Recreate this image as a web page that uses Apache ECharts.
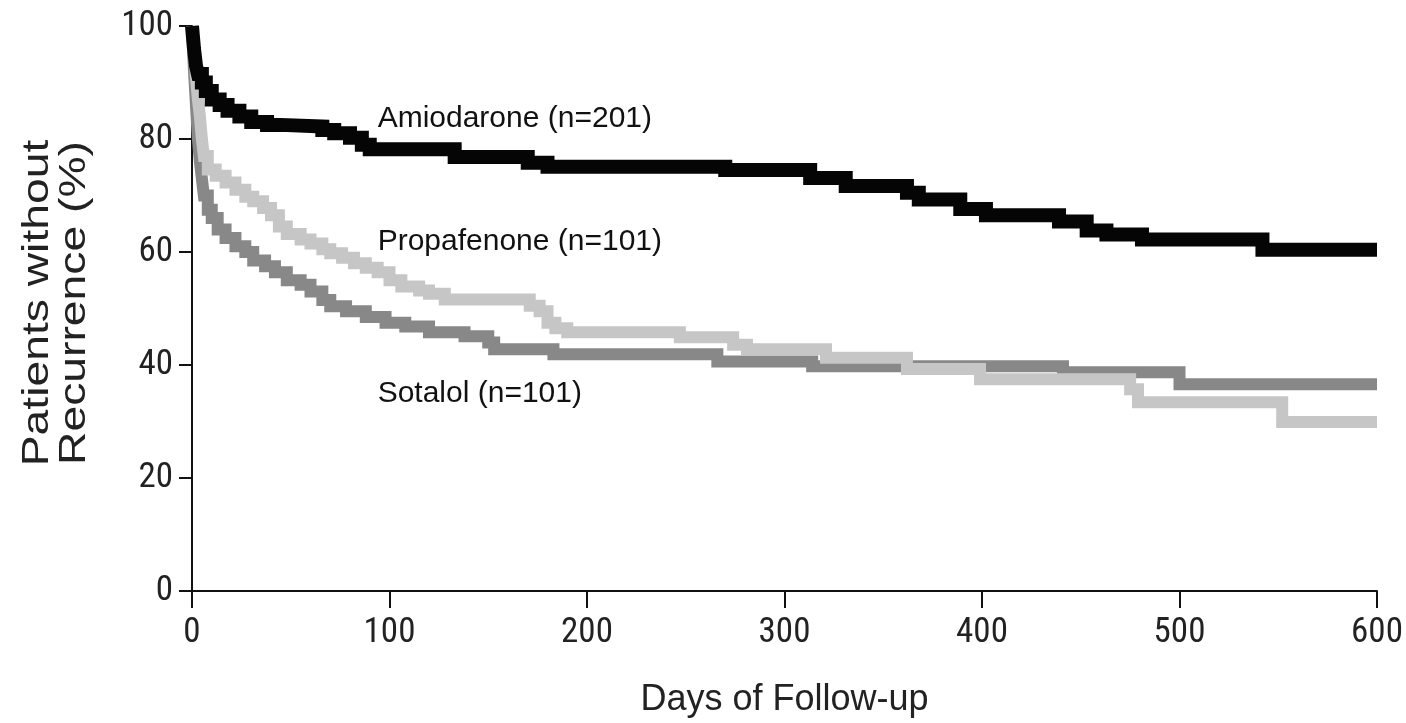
<!DOCTYPE html>
<html>
<head>
<meta charset="utf-8">
<title>Patients without Recurrence</title>
<script src="https://cdn.jsdelivr.net/npm/echarts@6/dist/echarts.min.js"></script>
<style>
  html, body { margin: 0; padding: 0; background: #fff; }
  #chart { width: 1406px; height: 723px; }
</style>
</head>
<body>
<div id="chart"></div>
<script>
// Kaplan-Meier style survival curves: day of event and % still free of recurrence after it
const amioDays = [0, 1, 2, 3, 5, 7, 10, 14, 18, 24, 30, 38, 45, 66, 72, 80, 86, 90, 133, 170, 180, 270, 313, 331, 362, 368, 389, 402, 439, 453, 463, 481, 542, 600];
const amioPct  = [100, 96, 93, 91.5, 90, 88.5, 87, 86, 85, 84, 83, 82.5, 82.2, 81.6, 81, 80.2, 79, 78.2, 76.8, 75.8, 75.1, 74.5, 73.1, 71.7, 70.5, 69.3, 67.6, 66.5, 65.4, 63.8, 63.1, 62.2, 60.4, 60.4];

const propDays = [0, 1, 2, 3, 4, 5, 6, 8, 12, 17, 22, 27, 31, 36, 40, 44, 48, 55, 60, 66, 70, 76, 82, 88, 94, 100, 106, 115, 120, 128, 171, 176, 180, 184, 190, 247, 274, 281, 321, 362, 399, 475, 479, 552, 600];
const propPct  = [100, 95, 91, 87, 84, 80, 77, 74.6, 73.5, 72.3, 71, 69.8, 69, 67.8, 66.5, 64.5, 63.2, 62.2, 61.5, 60.5, 59.8, 59, 58, 57.2, 56.4, 55, 53.9, 53.2, 52.6, 51.6, 50.5, 49.5, 47.5, 46.5, 45.8, 44.9, 43.6, 42.8, 41.3, 39.3, 37.5, 35.7, 33.4, 29.9, 29.9];

const sotaDays = [0, 1, 2, 3, 4, 5, 6, 8, 10, 13, 17, 22, 27, 31, 37, 42, 48, 55, 60, 66, 70, 78, 88, 98, 108, 120, 138, 150, 153, 183, 266, 314, 441, 500, 600];
const sotaPct  = [100, 92, 86, 80, 76, 73, 70, 67.5, 66, 64, 62.5, 61, 60, 58.5, 57.5, 56.4, 55, 54.2, 53, 51.5, 50.4, 49.5, 48.5, 47.5, 46.8, 45.8, 45.1, 44, 42.8, 41.9, 40.6, 39.8, 38.7, 36.6, 36.6];

const groupNames = ['Amiodarone (n=201)', 'Propafenone (n=101)', 'Sotalol (n=101)'];
// where each group's caption sits, in axis units (day, %)
const captionDay = [94, 94, 94];
const captionPct = [83.6, 61.8, 34.9];

const xTicks = [0, 100, 200, 300, 400, 500, 600];
const yTicks = [0, 20, 40, 60, 80, 100];

const pairs = (d, v) => d.map((x, i) => [x, v[i]]);

const tickFont = '"Liberation Sans Narrow", "Arial Narrow", "Roboto Condensed", "Liberation Sans", sans-serif';
const textFont = '"Liberation Sans", Arial, Helvetica, sans-serif';

function curve(name, data, color, width, idx) {
  return {
    name: name,
    type: 'line',
    step: 'end',
    data: data,
    symbol: 'none',
    silent: true,
    lineStyle: { color: color, width: width, cap: 'butt', join: 'miter' },
    markPoint: {
      symbol: 'circle',
      symbolSize: 0,
      silent: true,
      data: [{
        coord: [captionDay[idx], captionPct[idx]],
        label: {
          show: true,
          position: 'right',
          distance: 0,
          formatter: groupNames[idx],
          fontFamily: textFont,
          fontSize: 30,
          color: '#111'
        }
      }]
    }
  };
}

const chart = echarts.init(document.getElementById('chart'), null, { renderer: 'canvas' });
chart.setOption({
  animation: false,
  backgroundColor: '#fff',
  grid: { left: 192, right: 29, top: 26, bottom: 131, containLabel: false },
  xAxis: {
    type: 'value',
    min: 0,
    max: 600,
    interval: 100,
    name: 'Days of Follow-up',
    nameLocation: 'middle',
    nameGap: 91,
    nameTextStyle: { fontFamily: textFont, fontSize: 36, color: '#222' },
    axisLine: { show: true, onZero: false, lineStyle: { color: '#111', width: 2 } },
    axisTick: { show: true, length: 17, lineStyle: { color: '#111', width: 2 } },
    axisLabel: {
      margin: 25,
      fontFamily: tickFont,
      fontSize: 35,
      color: '#222',
      formatter: v => xTicks.includes(v) ? String(v) : ''
    },
    splitLine: { show: false }
  },
  yAxis: {
    type: 'value',
    min: 0,
    max: 100,
    interval: 20,
    axisLine: { show: true, lineStyle: { color: '#111', width: 2 } },
    axisTick: { show: true, length: 13, lineStyle: { color: '#111', width: 2 } },
    axisLabel: {
      margin: 19,
      fontFamily: tickFont,
      fontSize: 35,
      color: '#222',
      formatter: v => yTicks.includes(v) ? String(v) : ''
    },
    splitLine: { show: false }
  },
  graphic: [{
    type: 'text',
    x: 56,
    y: 303,
    rotation: Math.PI / 2,
    scaleX: 1.25,
    style: {
      text: 'Patients without\nRecurrence (%)',
      fontFamily: textFont,
      fontSize: 37,
      lineHeight: 37,
      fill: '#222',
      align: 'center',
      verticalAlign: 'middle'
    }
  }],
  series: [
    curve('Sotalol', pairs(sotaDays, sotaPct), '#888888', 12, 2),
    curve('Propafenone', pairs(propDays, propPct), '#c6c6c6', 12, 1),
    curve('Amiodarone', pairs(amioDays, amioPct), '#050505', 14, 0)
  ]
});
</script>
</body>
</html>
